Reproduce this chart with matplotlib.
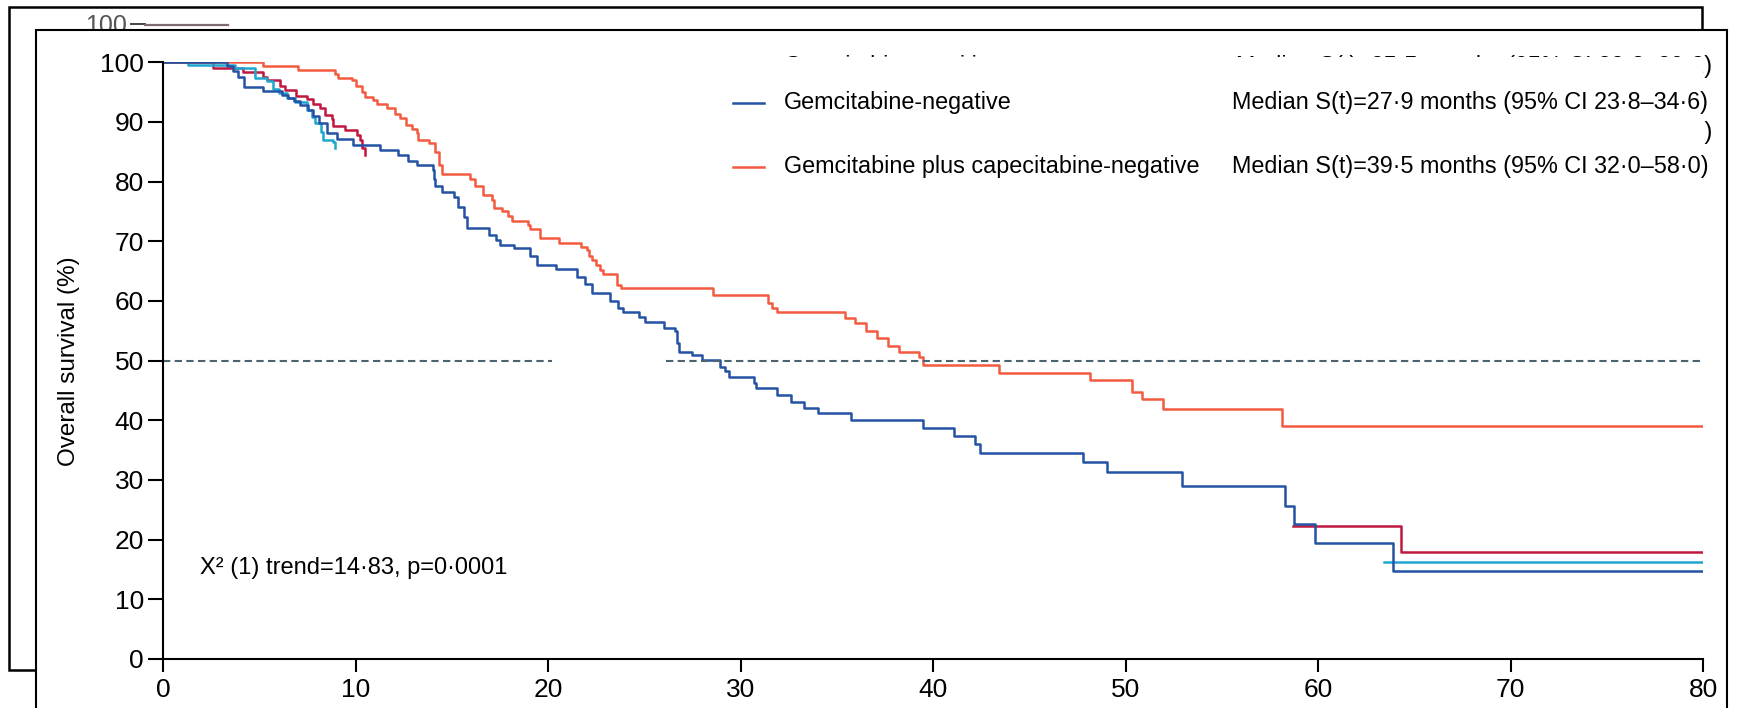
import matplotlib
matplotlib.use("Agg")
import matplotlib.pyplot as plt
from matplotlib.patches import Rectangle

plt.rcParams['font.family'] = ['Liberation Sans', 'DejaVu Sans']

# ---------------- data ----------------
blue_t = [0, 3.3, 3.6, 3.9, 4.2, 5.2, 6.15, 6.5, 6.8, 7.1, 7.5, 7.8, 8.1, 8.5, 9.0, 9.83,
          11.26, 12.2, 12.7, 13.2, 14.0, 14.05, 14.1, 14.5, 15.1, 15.3, 15.6, 15.8, 16.9,
          17.3, 17.5, 18.2, 19.05, 19.4, 20.4, 21.5, 21.9, 22.25, 23.2, 23.6, 23.9, 24.7,
          25.0, 26.0, 26.6, 26.7, 26.8, 27.45, 27.97, 28.9, 29.2, 29.4, 30.7, 30.8, 31.9,
          32.6, 33.3, 34.0, 35.7, 39.45, 41.08, 42.17, 42.43, 47.76, 49.0, 52.9, 58.27,
          58.75, 59.83, 63.87, 80]
blue_s = [100, 99.3, 98.5, 97.5, 95.8, 95.2, 94.5, 94.0, 93.5, 92.8, 92.0, 91.0, 89.8, 88.1,
          87.2, 86.1, 85.3, 84.5, 83.5, 82.8, 82.0, 80.5, 79.2, 78.3, 77.5, 75.8, 74.1, 72.3,
          71.1, 70.2, 69.4, 68.9, 67.5, 66.0, 65.3, 64.0, 62.8, 61.4, 60.0, 58.9, 58.2, 57.3,
          56.5, 55.5, 54.9, 53.0, 51.5, 50.9, 50.1, 49.0, 48.2, 47.3, 46.3, 45.4, 44.2, 43.0,
          42.0, 41.2, 40.05, 38.66, 37.4, 36.0, 34.6, 33.0, 31.4, 29.0, 25.7, 22.6, 19.4,
          14.8, 14.8]

orange_t = [0, 5.2, 7.0, 8.9, 9.1, 9.8, 10.0, 10.3, 10.5, 10.9, 11.1, 11.6, 12.04, 12.3,
            12.6, 12.9, 13.2, 13.25, 13.8, 14.1, 14.3, 14.5, 15.93, 16.2, 16.6, 17.06, 17.2,
            17.6, 17.9, 18.1, 18.96, 19.05, 19.57, 20.57, 21.7, 22.0, 22.1, 22.25, 22.5, 22.7,
            22.86, 23.55, 23.8, 28.57, 31.43, 31.6, 31.9, 35.41, 35.93, 36.5, 37.06, 37.66,
            38.23, 39.27, 39.48, 43.41, 48.14, 50.34, 50.82, 51.95, 58.1, 80]
orange_s = [100, 99.4, 98.7, 98.0, 97.3, 97.0, 96.0, 95.0, 94.2, 93.7, 93.0, 92.3, 91.4,
            90.6, 89.5, 88.8, 88.1, 87.0, 86.4, 85.0, 82.8, 81.3, 80.4, 79.2, 77.8, 76.9,
            75.5, 75.0, 74.2, 73.45, 72.7, 72.0, 70.5, 69.8, 69.0, 68.5, 67.6, 66.9, 66.0,
            65.2, 64.5, 62.7, 62.2, 61.0, 59.6, 58.9, 58.2, 57.1, 56.3, 55.0, 53.85, 52.5,
            51.45, 50.55, 49.27, 48.0, 46.76, 44.8, 43.57, 41.85, 39.1, 39.1]

crimson_early_t = [0, 2.6, 4.15, 5.2, 5.37, 6.06, 6.3, 6.9, 7.45, 7.8, 8.14, 8.4, 8.75, 8.8,
                   9.44, 10.05, 10.2, 10.3, 10.48]
crimson_early_s = [100, 99.0, 98.4, 97.6, 97.0, 96.1, 95.4, 94.4, 93.8, 93.0, 92.3, 91.2,
                   90.5, 89.4, 88.65, 87.9, 87.0, 85.6, 84.5]
crimson_late_t = [58.7, 64.3, 80]
crimson_late_s = [22.3, 18.0, 18.0]

cyan_early_t = [0, 1.3, 3.72, 4.76, 5.37, 5.7, 6.0, 6.4, 6.84, 7.45, 7.7, 7.88, 8.2, 8.3,
                8.83, 8.92]
cyan_early_s = [100, 99.55, 99.1, 97.3, 96.8, 95.6, 94.8, 94.0, 93.4, 92.0, 90.9, 89.8,
                88.4, 87.0, 86.7, 85.6]
cyan_late_t = [63.4, 80]
cyan_late_s = [16.3, 16.3]

median_level = 50
median_gap = [20.2, 26.1]

legend_labels = ["Gemcitabine-negative", "Gemcitabine plus capecitabine-negative"]
legend_medians = ["Median S(t)=27\u00b79 months (95% CI 23\u00b78\u201334\u00b76)",
                  "Median S(t)=39\u00b75 months (95% CI 32\u00b70\u201358\u00b70)"]
hidden_labels = ["Gemcitabine-positive", "Gemcitabine plus capecitabine-positive"]
hidden_medians = ["Median S(t)=25\u00b75 months (95% CI 22\u00b78\u201329\u00b72)",
                  "Median S(t)=38\u00b71 months (95% CI 31\u00b72\u201345\u00b70)"]

xticks = [0, 10, 20, 30, 40, 50, 60, 70, 80]
yticks = [0, 10, 20, 30, 40, 50, 60, 70, 80, 90, 100]
ylabel = "Overall survival (%)"
annotation = "X\u00b2 (1) trend=14\u00b783, p=0\u00b70001"

BLUE = "#2452a4"
ORANGE = "#f35b41"
CRIMSON = "#c0183f"
CYAN = "#1ea7cf"
LW = 1.8
FS = 16.8

# ---------------- figure ----------------
W, H = 1737, 708
fig = plt.figure(figsize=(W / 100, H / 100), dpi=100)

def rect(l, t, r, b):
    return [l / W, 1 - b / H, (r - l) / W, (b - t) / H]

# background layer (pixel coordinates)
bg = fig.add_axes([0, 0, 1, 1], zorder=0)
bg.set_xlim(0, W)
bg.set_ylim(H, 0)
bg.axis('off')
bg.add_patch(Rectangle((9, 7), 1693, 663, facecolor='white', edgecolor='black', lw=1.8, zorder=1))
bg.text(127, 33, "100", ha='right', va='baseline', fontsize=18, color='#555555', zorder=2)
bg.plot([131, 145], [24, 24], color='#444444', lw=1.4, zorder=2)
bg.plot([145, 228], [24.5, 24.5], color='#7d6a72', lw=1.6, zorder=2)
bg.add_patch(Rectangle((36, 30), 1691, 720, facecolor='white', edgecolor='black', lw=1.5,
                       zorder=3, clip_on=False))

# main axes
ax = fig.add_axes(rect(163.3, 62.3, 1703.3, 659), zorder=1)
ax.patch.set_visible(False)

ax.step(crimson_early_t, crimson_early_s, where='post', color=CRIMSON, lw=LW)
ax.step(crimson_late_t, crimson_late_s, where='post', color=CRIMSON, lw=LW)
ax.step(cyan_early_t, cyan_early_s, where='post', color=CYAN, lw=LW)
ax.step(cyan_late_t, cyan_late_s, where='post', color=CYAN, lw=LW)
ax.step(orange_t, orange_s, where='post', color=ORANGE, lw=LW)
ax.step(blue_t, blue_s, where='post', color=BLUE, lw=LW)

ax.plot([0, median_gap[0]], [median_level, median_level], color='#4d6470', lw=1.5,
        dashes=(3.5, 2.1))
ax.plot([median_gap[1], 80], [median_level, median_level], color='#4d6470', lw=1.5,
        dashes=(3.5, 2.1))

ax.set_xlim(0, 80)
ax.set_ylim(0, 100)
ax.set_xticks(xticks)
ax.set_yticks(yticks)
ax.spines['top'].set_visible(False)
ax.spines['right'].set_visible(False)
ax.spines['left'].set_linewidth(1.5)
ax.spines['bottom'].set_linewidth(1.5)
ax.tick_params(axis='y', length=11, width=1.5, pad=3, labelsize=19)
ax.tick_params(axis='x', length=9.5, width=1.5, pad=4, labelsize=19)
fig.text(69 / W, 1 - 361 / H, ylabel, rotation=90, ha='center', va='center', fontsize=17.5)

ax.text(1.9, 15.3, annotation, fontsize=17, va='center', ha='left')

# legend
leg_y = [(659 - 103) / 5.967, (659 - 167) / 5.967]
for lab, med, col, y in zip(legend_labels, legend_medians, [BLUE, ORANGE], leg_y):
    ax.plot([29.6, 31.2], [y, y], color=col, lw=LW, clip_on=False)
    ax.text(32.24, y, lab, fontsize=FS, va='center', ha='left')
    ax.text(55.5, y, med, fontsize=FS, va='center', ha='left')

# overlay layer (pixel coordinates): hidden legend rows partly masked
ov = fig.add_axes([0, 0, 1, 1], zorder=2)
ov.set_xlim(0, W)
ov.set_ylim(H, 0)
ov.axis('off')
for lab, med, y in zip(hidden_labels, hidden_medians, [67, 133]):
    ov.text(784, y, lab, fontsize=FS, va='center', ha='left', zorder=1)
    ov.text(1712, y, med, fontsize=FS, va='center', ha='right', zorder=1)
ov.add_patch(Rectangle((700, 57), 1003, 29, facecolor='white', edgecolor='none', zorder=2))
ov.add_patch(Rectangle((700, 118), 1004, 34, facecolor='white', edgecolor='none', zorder=2))

fig.savefig("out.png", dpi=100)
